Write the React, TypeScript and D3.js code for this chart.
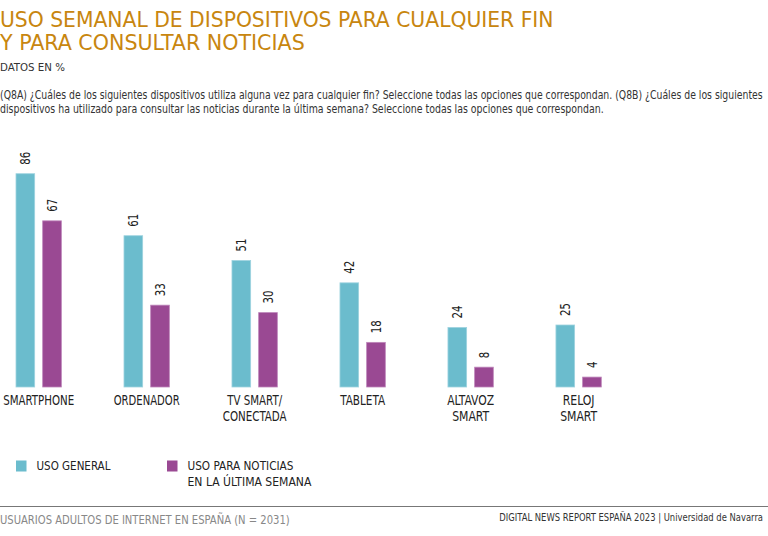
import React, { useLayoutEffect, useRef } from "react";
import * as d3 from "d3";

const categories = ["SMARTPHONE", "ORDENADOR", "TV SMART/\nCONECTADA", "TABLETA", "ALTAVOZ\nSMART", "RELOJ\nSMART"];
const seriesNames = ["USO GENERAL", "USO PARA NOTICIAS\nEN LA ÚLTIMA SEMANA"];
const usoGeneral = [86, 61, 51, 42, 24, 25];
const usoNoticias = [67, 33, 30, 18, 8, 4];
const colors = ["#6BBCCD", "#9A4993"];
const strokeColors = ["#9ED3DF", "#BE86BA"];

const W = 768, H = 536;
const FONT = "'DejaVu Sans Condensed', 'DejaVu Sans', sans-serif";

const CAT_W: Record<string, number> = {
  "SMARTPHONE": 71, "ORDENADOR": 66, "TV SMART/": 55, "CONECTADA": 64,
  "TABLETA": 45, "ALTAVOZ": 47, "SMART": 37, "RELOJ": 32,
};

// Text rendered in a condensed way: measured natural width, then scaled horizontally to `len`.
function T(props: any) {
  const { len, x = 0, y = 0, rot = 0, children, ...rest } = props;
  const ref = useRef<SVGTextElement>(null);
  useLayoutEffect(() => {
    const el = ref.current;
    if (!el) return;
    const w = el.getComputedTextLength();
    const k = w > 0 ? len / w : 1;
    el.setAttribute("transform", `translate(${x},${y}) rotate(${rot}) scale(${k},1)`);
  }, [len, x, y, rot, children]);
  return (
    <text ref={ref} {...rest} transform={`translate(${x},${y}) rotate(${rot})`}>{children}</text>
  );
}

export default function App() {
  const x0 = d3.scaleBand<string>().domain(categories).range([16, 601.3]).paddingInner(0.58).paddingOuter(0);
  const x1 = d3.scaleBand<string>().domain(["g", "n"]).range([0, x0.bandwidth()]).paddingInner(0.3);
  const y = d3.scaleLinear().domain([0, 100]).range([387, 139]);
  const series = [usoGeneral, usoNoticias];

  return (
    <svg width={W} height={H} style={{ position: "absolute", left: 0, top: 0, background: "#fff" }} fontFamily={FONT}>
      <T x={0} y={26.5} fontSize={22} fill="#C8860F" len={554}>USO SEMANAL DE DISPOSITIVOS PARA CUALQUIER FIN</T>
      <T x={0} y={50} fontSize={22} fill="#C8860F" len={305}>Y PARA CONSULTAR NOTICIAS</T>
      <T x={0} y={71} fontSize={11} fill="#333" len={65}>DATOS EN %</T>
      <T x={0} y={99} fontSize={11.5} fill="#333" len={763}>(Q8A) ¿Cuáles de los siguientes dispositivos utiliza alguna vez para cualquier fin? Seleccione todas las opciones que correspondan. (Q8B) ¿Cuáles de los siguientes</T>
      <T x={0} y={113} fontSize={11.5} fill="#333" len={604}>dispositivos ha utilizado para consultar las noticias  durante la última semana? Seleccione todas las opciones que correspondan.</T>

      {categories.map((c, i) => (
        <g key={c}>
          {series.map((s, j) => {
            const bx = (x0(c) as number) + (x1(j === 0 ? "g" : "n") as number);
            const bw = x1.bandwidth();
            const v = s[i];
            const label = String(v);
            return (
              <g key={j}>
                <rect x={bx} y={y(v)} width={bw} height={y(0) - y(v)} fill={colors[j]} stroke={strokeColors[j]} strokeWidth={0.8} />
                <T x={bx + bw / 2 + 5} y={y(v) - 9} rot={-90} fontSize={14} fill="#222" len={label.length * 6.5}>{label}</T>
              </g>
            );
          })}
          {c.split("\n").map((line, k) => (
            <T key={k} x={(x0(c) as number) + x0.bandwidth() / 2} y={404.5 + k * 16} fontSize={14} fill="#222" textAnchor="middle" len={CAT_W[line]}>{line}</T>
          ))}
        </g>
      ))}

      {seriesNames.map((n, j) => {
        const lx = j === 0 ? 16 : 167;
        const lens = j === 0 ? [74] : [106, 124];
        return (
          <g key={n}>
            <rect x={lx} y={460.5} width={10.5} height={11} fill={colors[j]} />
            {n.split("\n").map((line, k) => (
              <T key={k} x={lx + 20.5} y={470 + k * 16} fontSize={12} fill="#222" len={lens[k]}>{line}</T>
            ))}
          </g>
        );
      })}

      <line x1={0} x2={768} y1={506.5} y2={506.5} stroke="#777" strokeWidth={1.2} />
      <T x={0} y={523.5} fontSize={11.5} fill="#888" len={290}>USUARIOS ADULTOS DE INTERNET EN ESPAÑA (N = 2031)</T>
      <T x={763} y={521} fontSize={10} fill="#333" textAnchor="end" len={264}>DIGITAL NEWS REPORT ESPAÑA 2023 | Universidad de Navarra</T>
    </svg>
  );
}
